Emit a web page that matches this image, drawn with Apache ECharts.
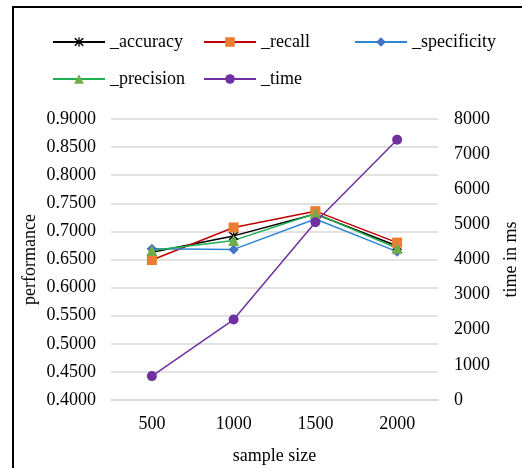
<!DOCTYPE html>
<html>
<head>
<meta charset="utf-8">
<script src="https://cdn.jsdelivr.net/npm/echarts@6/dist/echarts.min.js"></script>
<style>
  html, body { margin: 0; padding: 0; background: #fff; }
  #main { position: absolute; left: 0; top: 0; width: 522px; height: 468px; }
  /* chart frame: only left and top edges are in view */
  #frame { position: absolute; left: 12px; top: 6px; width: 520px; height: 470px;
           border-left: 2px solid #000; border-top: 2px solid #000; pointer-events: none; }
</style>
</head>
<body>
<div id="main"></div>
<div id="frame"></div>
<script>
// data
var sampleSizes = ['500', '1000', '1500', '2000']
var accuracy = [0.663, 0.692, 0.731, 0.674]
var recall = [0.649, 0.707, 0.736, 0.680]
var specificity = [0.669, 0.668, 0.722, 0.664]
var precision = [0.666, 0.684, 0.732, 0.670]
var timeMs = [680, 2290, 5060, 7410]

var font = 'Liberation Serif, Times New Roman, serif'
var starPath = 'path://M4.4,0 L5.6,0 L5.6,10 L4.4,10 Z M0.4,1.6 L1.4,0.7 L9.6,8.4 L8.6,9.3 Z M8.6,0.7 L9.6,1.6 L1.4,9.3 L0.4,8.4 Z'

// one legend per item so the columns line up like the original
function legendAt (name, left, top) {
  return {
    data: [name],
    left: left,
    top: top,
    padding: 0,
    itemWidth: 52,
    itemHeight: 12,
    itemGap: 0,
    textStyle: { fontFamily: font, fontSize: 18, color: '#000' }
  }
}

var chart = echarts.init(document.getElementById('main'))
chart.setOption({
  animation: false,
  textStyle: { fontFamily: font },
  legend: [
    legendAt('_accuracy', 52, 33),
    legendAt('_recall', 203, 33),
    legendAt('_specificity', 354, 33),
    legendAt('_precision', 52, 70),
    legendAt('_time', 203, 70)
  ],
  grid: { left: 111, right: 84, top: 119, bottom: 68, containLabel: false, outerBoundsMode: 'none' },
  xAxis: {
    type: 'category',
    data: sampleSizes,
    name: 'sample size',
    nameLocation: 'middle',
    nameGap: 47,
    nameTextStyle: { fontFamily: font, fontSize: 18, color: '#000' },
    axisLine: { lineStyle: { color: '#d9d9d9', width: 1.5 } },
    axisTick: { show: false },
    axisLabel: { fontFamily: font, fontSize: 18, color: '#000', margin: 15 }
  },
  yAxis: [
    {
      type: 'value',
      min: 0.4,
      max: 0.9,
      interval: 0.05,
      name: 'performance',
      nameLocation: 'middle',
      nameGap: 72,
      nameRotate: 90,
      nameMoveOverlap: false,
      nameTextStyle: { fontFamily: font, fontSize: 18, color: '#000' },
      axisLine: { show: false },
      axisTick: { show: false },
      axisLabel: {
        fontFamily: font, fontSize: 18, color: '#000', margin: 15,
        formatter: function (v) { return v.toFixed(4) }
      },
      splitLine: { lineStyle: { color: '#d9d9d9', width: 1.5 } }
    },
    {
      type: 'value',
      min: 0,
      max: 8000,
      interval: 1000,
      name: 'time in ms',
      nameLocation: 'middle',
      nameGap: 64,
      nameRotate: 90,
      nameTextStyle: { fontFamily: font, fontSize: 18, color: '#000' },
      axisLine: { show: false },
      axisTick: { show: false },
      axisLabel: {
        fontFamily: font, fontSize: 18, color: '#000', margin: 16,
        formatter: function (v) { return String(v) }
      },
      splitLine: { show: false }
    }
  ],
  series: [
    {
      name: '_accuracy',
      type: 'line',
      data: accuracy,
      symbol: starPath,
      symbolSize: 10,
      lineStyle: { color: '#000', width: 1.5 },
      itemStyle: { color: '#000' }
    },
    {
      name: '_recall',
      type: 'line',
      data: recall,
      symbol: 'rect',
      symbolSize: 10,
      lineStyle: { color: '#c00000', width: 1.5 },
      itemStyle: { color: '#ed7d31' }
    },
    {
      name: '_specificity',
      type: 'line',
      data: specificity,
      symbol: 'diamond',
      symbolSize: 10,
      lineStyle: { color: '#2e86d6', width: 1.5 },
      itemStyle: { color: '#4472c4' }
    },
    {
      name: '_precision',
      type: 'line',
      data: precision,
      symbol: 'triangle',
      symbolSize: 11,
      lineStyle: { color: '#1fb050', width: 1.5 },
      itemStyle: { color: '#70ad47' }
    },
    {
      name: '_time',
      type: 'line',
      yAxisIndex: 1,
      data: timeMs,
      symbol: 'circle',
      symbolSize: 10,
      lineStyle: { color: '#7030a0', width: 1.5 },
      itemStyle: { color: '#7030a0' }
    }
  ]
})
</script>
</body>
</html>
